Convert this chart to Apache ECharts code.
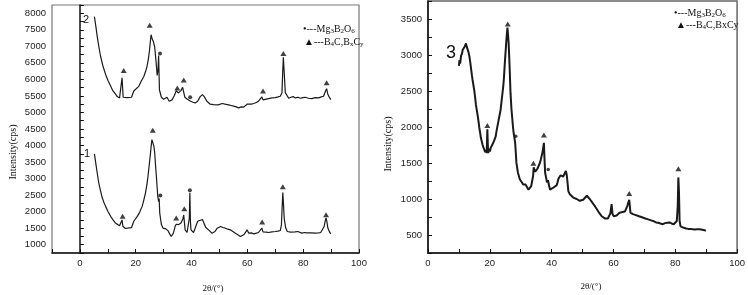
<!DOCTYPE html>
<html>
<head>
<meta charset="utf-8">
<script src="https://cdn.jsdelivr.net/npm/echarts@6/dist/echarts.min.js"></script>
<style>
html, body { margin: 0; padding: 0; background: #fff; }
#chart { width: 748px; height: 295px; }
</style>
</head>
<body>
<div id="chart"></div>
<script>
// sample 2 (upper pattern, left panel)
const angle2 = [5.2, 5.8, 6.2, 6.8, 7.4, 8.2, 9.2, 10.1, 11, 11.8, 12.7, 13.4, 14.2, 14.7, 15.1, 15.5, 16.0, 16.9, 17.6, 18.5, 19.0, 19.3, 20.0, 21.1, 22.0, 22.9, 23.5, 24.0, 24.5, 24.9, 25.3, 25.5, 25.9, 26.3, 26.8, 27.3, 27.7, 28.0, 28.2, 28.5, 29.2, 30.0, 30.6, 31.2, 32.0, 33.0, 33.9, 34.5, 35.2, 35.7, 36.2, 36.8, 37.3, 37.6, 38.5, 39.1, 39.7, 40.5, 41.3, 42.2, 43.1, 43.9, 44.6, 45.5, 46.7, 47.9, 48.6, 49.5, 51.0, 52.0, 53.3, 54.2, 55.1, 56.0, 56.9, 57.8, 58.7, 59.4, 59.9, 60.5, 61.4, 62.3, 63.2, 64.0, 64.7, 65.2, 65.6, 66.1, 67.6, 68.8, 70.0, 71.0, 71.8, 72.4, 72.7, 72.9, 73.2, 73.6, 74.1, 74.8, 75.6, 76.4, 77.2, 78.1, 79.0, 79.9, 80.7, 81.9, 83.1, 84.3, 85.5, 86.5, 87.3, 88.0, 88.4, 88.8, 89.3, 89.9];
const counts2 = [7900, 7550, 7300, 6980, 6700, 6420, 6150, 5960, 5800, 5660, 5560, 5480, 5440, 5480, 6050, 5460, 5420, 5450, 5410, 5460, 5520, 5650, 5700, 5790, 5950, 6090, 6230, 6380, 6600, 6850, 7200, 7350, 7220, 7150, 6980, 6520, 6120, 6300, 6720, 5680, 5460, 5400, 5430, 5460, 5340, 5380, 5520, 5660, 5590, 5620, 5660, 5760, 5820, 5460, 5400, 5430, 5340, 5310, 5290, 5340, 5480, 5540, 5470, 5340, 5250, 5240, 5260, 5230, 5270, 5250, 5230, 5210, 5190, 5170, 5140, 5170, 5160, 5200, 5250, 5290, 5250, 5270, 5300, 5340, 5380, 5470, 5380, 5400, 5420, 5440, 5450, 5470, 5490, 5600, 6300, 6670, 6200, 5600, 5600, 5430, 5460, 5480, 5440, 5460, 5430, 5450, 5460, 5430, 5420, 5450, 5440, 5470, 5490, 5650, 5720, 5560, 5470, 5390];

// sample 1 (lower pattern, left panel)
const angle1 = [5.2, 5.8, 6.2, 6.6, 7.0, 7.5, 8.0, 8.6, 9.2, 10.1, 11.0, 11.8, 12.7, 13.4, 14.2, 14.7, 15.1, 15.4, 15.7, 16.3, 16.9, 17.6, 18.5, 19.0, 19.3, 19.8, 20.5, 21.4, 22.3, 22.9, 23.5, 24.0, 24.4, 24.8, 25.2, 25.5, 25.8, 26.1, 26.5, 26.8, 27.1, 27.4, 27.7, 27.9, 28.2, 28.4, 28.6, 28.9, 29.2, 29.8, 30.4, 30.8, 31.2, 31.6, 32.0, 32.4, 32.7, 33.1, 33.5, 34.1, 34.5, 35.0, 35.4, 36.2, 36.6, 36.9, 37.2, 37.4, 37.7, 38.1, 38.4, 38.9, 39.2, 39.4, 39.6, 39.8, 40.3, 40.7, 41.1, 41.5, 42.2, 42.6, 43.1, 43.5, 43.9, 44.3, 44.6, 45.1, 45.6, 46.1, 46.7, 47.3, 47.9, 48.4, 48.6, 49.2, 49.6, 50.4, 51.2, 52.1, 53.0, 53.9, 54.8, 55.7, 56.6, 57.5, 58.1, 58.7, 59.4, 59.9, 60.5, 61.4, 62.3, 63.2, 64.0, 64.7, 65.2, 65.6, 66.0, 66.8, 67.6, 68.8, 70.0, 71.0, 71.8, 72.2, 72.5, 72.7, 72.9, 73.2, 73.7, 74.3, 74.8, 75.5, 76.2, 77.1, 78.1, 78.8, 79.5, 80.5, 81.3, 81.9, 83.0, 84.3, 85.5, 86.3, 86.9, 87.5, 87.9, 88.2, 88.5, 88.8, 89.1, 89.5, 89.9];
const counts1 = [3750, 3400, 3170, 2950, 2770, 2590, 2420, 2280, 2160, 2000, 1860, 1760, 1660, 1610, 1575, 1600, 1750, 1560, 1500, 1490, 1480, 1510, 1520, 1580, 1710, 1750, 1850, 1980, 2160, 2350, 2570, 2820, 3070, 3380, 3700, 3950, 4180, 4150, 3980, 3780, 3400, 3070, 2700, 2460, 2300, 2400, 1960, 1780, 1610, 1500, 1450, 1480, 1500, 1420, 1350, 1300, 1250, 1290, 1350, 1550, 1620, 1590, 1610, 1660, 1720, 1780, 1900, 1960, 1450, 1400, 1370, 1420, 1800, 2570, 1700, 1450, 1400, 1370, 1450, 1550, 1710, 1690, 1740, 1720, 1760, 1740, 1810, 1520, 1470, 1450, 1400, 1350, 1380, 1400, 1450, 1500, 1470, 1550, 1520, 1500, 1470, 1450, 1400, 1350, 1300, 1250, 1280, 1300, 1380, 1450, 1350, 1360, 1330, 1350, 1370, 1400, 1500, 1390, 1370, 1380, 1370, 1390, 1400, 1410, 1430, 1600, 2200, 2580, 2300, 1800, 1520, 1400, 1370, 1380, 1400, 1390, 1400, 1370, 1350, 1370, 1360, 1370, 1360, 1350, 1360, 1370, 1420, 1550, 1720, 1810, 1700, 1520, 1450, 1380, 1330];

// sample 3 (right panel)
const angle3 = [10.0, 10.2, 10.4, 10.7, 11.0, 11.2, 11.5, 11.8, 12.0, 12.3, 12.5, 12.8, 13.1, 13.4, 13.7, 13.9, 14.2, 14.4, 14.7, 15.0, 15.3, 15.5, 15.8, 16.1, 16.4, 16.6, 16.9, 17.1, 17.4, 17.6, 17.9, 18.2, 18.5, 18.7, 19.0, 19.2, 19.4, 19.5, 19.8, 20.0, 20.3, 20.6, 21.0, 21.4, 21.9, 22.2, 22.6, 23.0, 23.5, 23.8, 24.1, 24.4, 24.6, 24.8, 25.0, 25.2, 25.4, 25.7, 25.9, 26.1, 26.4, 26.7, 27.0, 27.2, 27.5, 27.7, 28.0, 28.2, 28.4, 28.6, 28.9, 29.1, 29.4, 29.7, 30.0, 30.4, 30.8, 31.2, 31.6, 32.1, 32.5, 32.8, 33.1, 33.4, 33.7, 34.0, 34.2, 34.4, 34.7, 35.0, 35.4, 35.8, 36.2, 36.5, 36.9, 37.2, 37.5, 37.7, 37.9, 38.2, 38.5, 38.8, 39.2, 39.5, 39.7, 40.1, 40.6, 41.2, 41.6, 41.9, 42.2, 42.5, 42.9, 43.3, 43.7, 44.0, 44.3, 44.6, 44.9, 45.1, 45.4, 45.9, 46.4, 47.0, 47.5, 48.1, 48.6, 49.1, 49.6, 50.2, 50.8, 51.4, 52.0, 52.5, 53.0, 53.5, 54.0, 54.6, 55.2, 55.7, 56.2, 56.7, 57.2, 57.8, 58.2, 58.6, 59.0, 59.4, 59.7, 60.1, 60.5, 61.0, 61.5, 62.0, 62.6, 63.0, 63.3, 63.7, 64.0, 64.5, 64.8, 65.1, 65.3, 65.5, 65.9, 66.3, 67.0, 67.6, 68.3, 69.0, 69.6, 70.3, 71.0, 71.7, 72.4, 73.1, 73.8, 74.5, 75.2, 76.0, 76.7, 77.4, 78.1, 78.8, 79.5, 80.1, 80.5, 80.8, 81.0, 81.2, 81.4, 81.7, 82.2, 82.8, 83.5, 84.2, 84.9, 85.6, 86.3, 87.0, 87.7, 88.4, 89.0, 89.5, 89.9];
const counts3 = [2850, 2930, 2880, 2990, 3020, 3070, 3050, 3110, 3090, 3160, 3120, 3100, 3040, 2980, 2890, 2820, 2720, 2660, 2580, 2500, 2390, 2310, 2230, 2150, 2060, 1990, 1910, 1850, 1800, 1760, 1720, 1690, 1650, 1680, 1640, 1970, 1700, 1640, 1700, 1660, 1710, 1720, 1770, 1810, 1870, 1950, 2040, 2130, 2240, 2360, 2470, 2590, 2700, 2850, 2980, 3100, 3230, 3380, 3280, 3160, 2840, 2470, 2250, 2150, 2000, 1920, 1840, 1780, 1650, 1505, 1420, 1365, 1320, 1275, 1250, 1230, 1200, 1180, 1200, 1160, 1130, 1110, 1150, 1180, 1250, 1320, 1440, 1410, 1380, 1390, 1420, 1460, 1500, 1550, 1620, 1690, 1780, 1550, 1365, 1300, 1230, 1260, 1180, 1130, 1110, 1140, 1160, 1150, 1190, 1230, 1280, 1300, 1330, 1345, 1310, 1320, 1360, 1390, 1330, 1250, 1110, 1065, 1040, 1020, 1010, 1000, 990, 975, 985, 990, 1010, 1045, 1020, 990, 960, 930, 900, 860, 820, 790, 760, 745, 730, 720, 730, 745, 800, 930, 790, 760, 745, 770, 790, 810, 835, 820, 810, 825, 835, 905, 950, 990, 900, 810, 800, 790, 780, 770, 760, 750, 745, 730, 720, 710, 700, 690, 675, 670, 660, 650, 665, 670, 675, 660, 650, 660, 695, 900, 1300, 1100, 700, 620, 605, 600, 590, 585, 585, 580, 575, 580, 580, 575, 570, 565, 560];

// peak markers: triangle = B4C/BxCy, dot = Mg3B2O6
const triLeftAngle = [15.7, 25.0, 34.9, 37.2, 65.6, 72.9, 88.4, 15.3, 26.1, 34.5, 37.4, 65.3, 72.7, 88.2];
const triLeftCount = [6270, 7640, 5740, 5980, 5650, 6780, 5900, 1860, 4460, 1810, 2090, 1690, 2750, 1910];
const dotLeftAngle = [28.7, 39.5, 28.8, 39.4];
const dotLeftCount = [6780, 5460, 2490, 2650];
const triRightAngle = [19.2, 25.8, 34.1, 37.5, 65.1, 81.0];
const triRightCount = [2020, 3430, 1495, 1890, 1075, 1420];
const dotRightAngle = [28.4, 38.9];
const dotRightCount = [1870, 1410];

const xTicks = [0, 20, 40, 60, 80, 100];

const zip = (a, b) => a.map((v, i) => [v, b[i]]);
const sans = "Liberation Sans";
const serif = "Liberation Serif";

const xAxisOf = (grid, min) => ({
  type: "value",
  gridIndex: grid,
  min: min,
  max: 100,
  interval: 10,
  axisLine: { lineStyle: { color: "#111", width: 1.5 } },
  axisTick: { inside: true, length: 4, lineStyle: { color: "#111" } },
  axisLabel: {
    formatter: (v) => (xTicks.indexOf(v) >= 0 ? v : ""),
    fontSize: 9.5,
    color: "#222",
    fontFamily: sans,
    margin: 5,
  },
  splitLine: { show: false },
});

const yAxisOf = (grid, min, max, first) => ({
  type: "value",
  gridIndex: grid,
  min: min,
  max: max,
  interval: 250,
  axisLine: { show: true, lineStyle: { color: "#111", width: 1.5 } },
  axisTick: { show: true, inside: true, length: 4, lineStyle: { color: "#111" } },
  axisLabel: {
    formatter: (v) => (v % 500 === 0 && v >= first ? v : ""),
    fontSize: 9.5,
    color: "#222",
    fontFamily: sans,
    margin: 6,
  },
  splitLine: { show: false },
});

const lineSeries = (name, grid, a, c, w) => ({
  name: name,
  type: "line",
  xAxisIndex: grid,
  yAxisIndex: grid,
  data: zip(a, c),
  showSymbol: false,
  lineStyle: { color: "#1a1a1a", width: w },
});

const markSeries = (grid, a, c, shape, size) => ({
  type: "scatter",
  xAxisIndex: grid,
  yAxisIndex: grid,
  data: zip(a, c),
  symbol: shape,
  symbolSize: size,
  itemStyle: { color: "#111" },
  z: 5,
});

const rich = {
  n: { fontFamily: serif, fontSize: 10, color: "#111" },
  s: { fontFamily: serif, fontSize: 7, color: "#111", verticalAlign: "bottom", padding: [5, 0, 0, 0] },
};

const legendText = (x, y, text, size) => ({
  type: "text",
  left: x,
  top: y,
  style: { text: text, rich: rich, fill: "#111", font: size + "px " + serif },
});

const option = {
  animation: false,
  backgroundColor: "#fff",
  grid: [
    { left: 52, top: 5, width: 307, height: 248, show: true, borderColor: "#777", borderWidth: 1.2 },
    { left: 428, top: 1, width: 312, height: 252, show: true, borderColor: "#666", borderWidth: 1.5 },
  ],
  xAxis: [xAxisOf(0, -10), xAxisOf(1, 0)],
  yAxis: [yAxisOf(0, 750, 8250, 1000), yAxisOf(1, 250, 3750, 500)],
  series: [
    lineSeries("2", 0, angle2, counts2, 1.2),
    lineSeries("1", 0, angle1, counts1, 1.2),
    lineSeries("3", 1, angle3, counts3, 2),
    markSeries(0, triLeftAngle, triLeftCount, "triangle", [6, 5]),
    markSeries(0, dotLeftAngle, dotLeftCount, "circle", 4),
    markSeries(1, triRightAngle, triRightCount, "triangle", [6, 5]),
    markSeries(1, dotRightAngle, dotRightCount, "circle", 3.5),
  ],
  graphic: [
    { type: "text", left: 83, top: 14, style: { text: "2", font: "11px " + sans, fill: "#111" } },
    { type: "text", left: 84, top: 148, style: { text: "1", font: "11px " + sans, fill: "#111" } },
    { type: "text", left: 446, top: 44, style: { text: "3", font: "18px " + sans, fill: "#111" } },
    legendText(303, 24, "{n|•---Mg}{s|3}{n|B}{s|2}{n|O}{s|6}", 10),
    legendText(304, 37, "{n|▲---B}{s|4}{n|C,B}{s|x}{n|C}{s|y}", 10),
    legendText(674, 8, "{n|•---Mg}{s|3}{n|B}{s|2}{n|O}{s|6}", 10),
    legendText(676, 20, "{n|▲---B}{s|4}{n|C,BxCy}", 10),
    {
      type: "text",
      x: 13,
      y: 152,
      rotation: Math.PI / 2,
      style: { text: "Intensity(cps)", font: "10px " + serif, fill: "#111", align: "center", verticalAlign: "middle" },
    },
    {
      type: "text",
      x: 388,
      y: 144,
      rotation: Math.PI / 2,
      style: { text: "Intensity(cps)", font: "10px " + serif, fill: "#111", align: "center", verticalAlign: "middle" },
    },
    {
      type: "text",
      x: 213,
      y: 289,
      style: { text: "2θ/(°)", font: "9px " + serif, fill: "#111", align: "center", verticalAlign: "middle" },
    },
    {
      type: "text",
      x: 591,
      y: 287,
      style: { text: "2θ/(°)", font: "9px " + serif, fill: "#111", align: "center", verticalAlign: "middle" },
    },
  ],
};

const chart = echarts.init(document.getElementById("chart"));
chart.setOption(option);
</script>
</body>
</html>
